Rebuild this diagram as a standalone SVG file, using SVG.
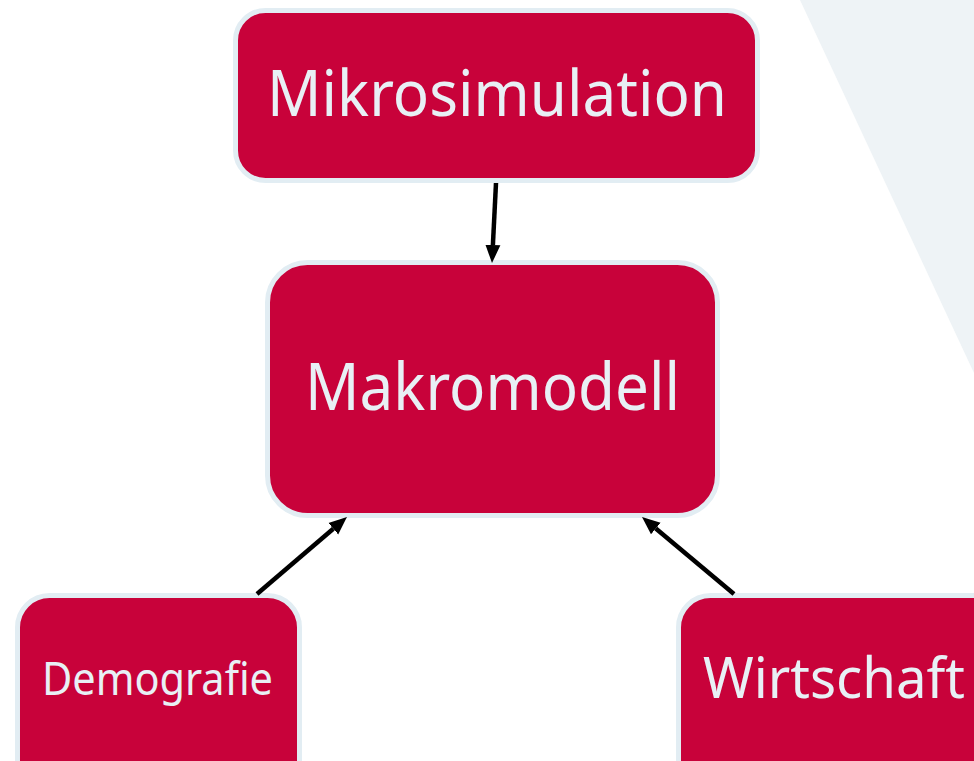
<svg xmlns="http://www.w3.org/2000/svg" width="974" height="761" viewBox="0 0 974 761">
<style>
.box{fill:#C8023A;stroke:#E2EDF3;stroke-width:5}
.lbl{font-family:"Noto Sans","Liberation Sans",sans-serif;fill:#E8F0F5;text-anchor:middle}
.conn{stroke:#000;stroke-width:4.5;fill:none}
</style>
<defs>
<marker id="ah" markerUnits="userSpaceOnUse" markerWidth="19" markerHeight="16" refX="0" refY="8" orient="auto" viewBox="0 0 19 16">
<path d="M0,0.5 L18,8 L0,15.5 z" fill="#000"/>
</marker>
</defs>
<rect width="974" height="761" fill="#fff"/>
<polygon points="800,0 974,0 974,373" fill="#EEF3F6"/>
<g id="node-mikrosimulation">
<rect class="box" x="235.5" y="10.5" width="522" height="170" rx="30"/>
<text class="lbl" x="497" y="116" font-size="64" textLength="460" lengthAdjust="spacingAndGlyphs">Mikrosimulation</text>
</g>
<g id="node-makromodell">
<rect class="box" x="267.5" y="262.5" width="450" height="253" rx="40"/>
<text class="lbl" x="492.5" y="410" font-size="66" textLength="375" lengthAdjust="spacingAndGlyphs">Makromodell</text>
</g>
<g id="node-demografie">
<rect class="box" x="17.5" y="595.5" width="282" height="200" rx="32"/>
<text class="lbl" x="157.5" y="695" font-size="45" textLength="231" lengthAdjust="spacingAndGlyphs">Demografie</text>
</g>
<g id="node-wirtschaft">
<rect class="box" x="678.5" y="595.5" width="330" height="200" rx="32"/>
<text class="lbl" x="834" y="698" font-size="57" textLength="262" lengthAdjust="spacingAndGlyphs">Wirtschaft</text>
</g>
<g id="connectors">
<line class="conn" x1="496" y1="183" x2="492.9" y2="245" marker-end="url(#ah)"/>
<line class="conn" x1="257" y1="594" x2="333.3" y2="528.7" marker-end="url(#ah)"/>
<line class="conn" x1="734" y1="594" x2="655.8" y2="528.6" marker-end="url(#ah)"/>
</g>
</svg>
